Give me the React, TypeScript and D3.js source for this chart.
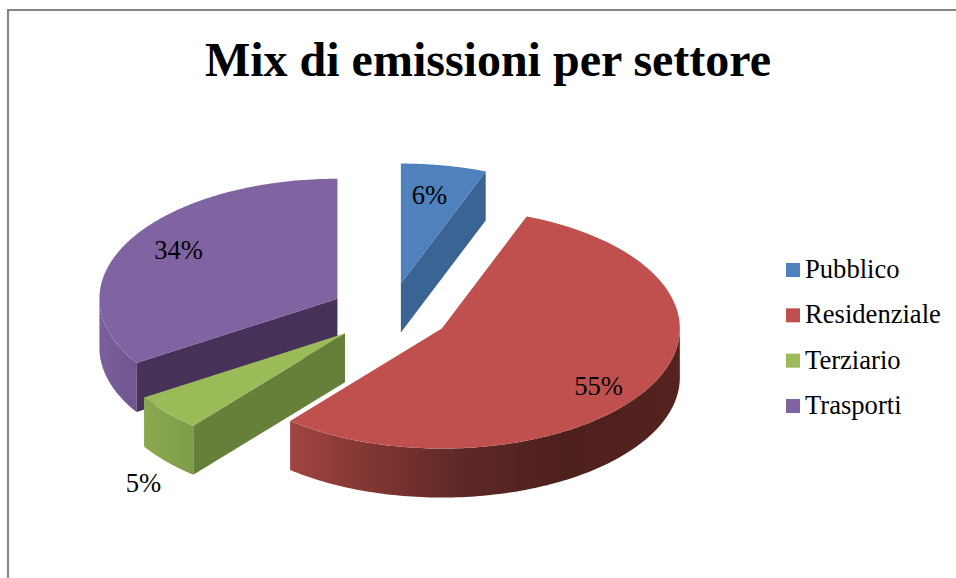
import React from "react";
import * as d3 from "d3";

const title = "Mix di emissioni per settore";
const categories = ["Pubblico", "Residenziale", "Terziario", "Trasporti"];
const percentages = [5.8, 55.2, 5, 34];
const topColors = ["#4F81BD", "#C0504D", "#9BBB59", "#8064A2"];
const faceColors = ["#3A6494", "#5A2523", "#66803A", "#463158"];

const W = 956, H = 578;
const cx = 390, cy = 313.3, rx = 238, ry = 120, depth = 49, explode = 60;
const labelPos: [number, number][] = [[429.5, 204], [598.5, 395], [143.5, 492], [178.5, 259]];
const drawOrder = [3, 0, 2, 1];
const serif = "'Liberation Serif', 'Times New Roman', serif";

export default function App() {
  const arcs = d3.pie<number>().sort(null).startAngle(0).endAngle(2 * Math.PI)(percentages);
  const line = d3.line<[number, number]>().curve(d3.curveLinear);

  const shapes = arcs.map((a, i) => {
    const mid = (a.startAngle + a.endAngle) / 2;
    const ox = cx + explode * Math.sin(mid);
    const oy = cy - explode * (ry / rx) * Math.cos(mid);
    const pt = (t: number, dz = 0): [number, number] => [ox + rx * Math.sin(t), oy - ry * Math.cos(t) + dz];
    const sweep = (t0: number, t1: number, dz = 0) =>
      d3.range(0, 121).map((k) => pt(t0 + ((t1 - t0) * k) / 120, dz));
    const apex: [number, number] = [ox, oy];
    const apexLow: [number, number] = [ox, oy + depth];

    const top = line([apex, ...sweep(a.startAngle, a.endAngle)])! + "Z";
    const faces: string[] = [];
    if (Math.sin(a.startAngle) < -1e-6) faces.push(line([apex, pt(a.startAngle), pt(a.startAngle, depth), apexLow])! + "Z");
    if (Math.sin(a.endAngle) > 1e-6) faces.push(line([apex, pt(a.endAngle), pt(a.endAngle, depth), apexLow])! + "Z");

    const w0 = Math.max(a.startAngle, Math.PI / 2);
    const w1 = Math.min(a.endAngle, (3 * Math.PI) / 2);
    const wall = w1 > w0 ? line([...sweep(w0, w1), ...sweep(w1, w0, depth)])! + "Z" : null;
    return { top, faces, wall, i };
  });

  const legendY = d3.scalePoint<string>().domain(categories).range([270, 406]);

  return (
    <svg width={W} height={H} viewBox={`0 0 ${W} ${H}`} style={{ position: "absolute", left: 0, top: 0, background: "#fff" }}>
      <defs>
        <linearGradient id="wall1" gradientUnits="userSpaceOnUse" x1={290} x2={680} y1={0} y2={0}>
          <stop offset="0" stopColor="#A04542" />
          <stop offset="0.2" stopColor="#823633" />
          <stop offset="0.45" stopColor="#5C2826" />
          <stop offset="0.7" stopColor="#4E201E" />
          <stop offset="1" stopColor="#54231F" />
        </linearGradient>
        <linearGradient id="wall2" gradientUnits="userSpaceOnUse" x1={144} x2={195} y1={0} y2={0}>
          <stop offset="0" stopColor="#8BA950" />
          <stop offset="1" stopColor="#7F9B48" />
        </linearGradient>
        <linearGradient id="wall3" gradientUnits="userSpaceOnUse" x1={100} x2={140} y1={0} y2={0}>
          <stop offset="0" stopColor="#7A5F9B" />
          <stop offset="1" stopColor="#6F558F" />
        </linearGradient>
      </defs>

      <path d={`M8 578V10H956`} fill="none" stroke="#868686" strokeWidth={2.2} />

      <text x={488} y={76} textAnchor="middle" fontFamily={serif} fontWeight="bold" fontSize={48} fill="#000">
        {title}
      </text>

      {drawOrder.map((idx) => {
        const s = shapes[idx];
        return (
          <g key={idx}>
            {s.wall && <path d={s.wall} fill={`url(#wall${idx})`} />}
            {s.faces.map((d, j) => <path key={j} d={d} fill={faceColors[idx]} />)}
            <path d={s.top} fill={topColors[idx]} />
          </g>
        );
      })}

      {percentages.map((p, i) => (
        <text key={i} x={labelPos[i][0]} y={labelPos[i][1]} textAnchor="middle" fontFamily={serif} fontSize={26.6} fill="#000">
          {Math.round(p)}%
        </text>
      ))}

      {categories.map((c, i) => (
        <g key={c}>
          <rect x={786} y={legendY(c)! - 7} width={14} height={14} fill={topColors[i]} />
          <text x={805} y={legendY(c)! + 8} fontFamily={serif} fontSize={26.6} fill="#000">{c}</text>
        </g>
      ))}
    </svg>
  );
}
